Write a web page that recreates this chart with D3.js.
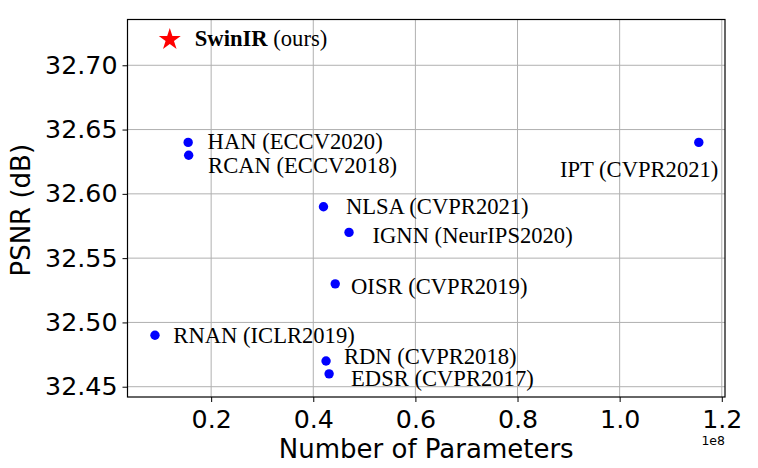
<!DOCTYPE html>
<html>
<head>
<meta charset="utf-8">
<script src="https://cdn.jsdelivr.net/npm/d3@7/dist/d3.min.js"></script>
<style>
  html, body { margin: 0; padding: 0; background: #fff; }
  svg { display: block; }
</style>
</head>
<body>
<svg id="chart" width="758" height="468"></svg>
<script>
// ---- data ----
const methods = ["HAN (ECCV2020)", "RCAN (ECCV2018)", "NLSA (CVPR2021)", "IGNN (NeurIPS2020)",
                 "OISR (CVPR2019)", "RNAN (ICLR2019)", "RDN (CVPR2018)", "EDSR (CVPR2017)", "IPT (CVPR2021)"];
const params = [15.5e6, 15.6e6, 42.0e6, 47.0e6, 44.3e6, 9.0e6, 42.5e6, 43.1e6, 115.5e6];
const psnr   = [32.64, 32.63, 32.59, 32.57, 32.53, 32.49, 32.47, 32.46, 32.64];
// annotation anchor points (data coordinates, like plt.text)
const labelX = [19.3e6, 19.4e6, 46.4e6, 51.6e6, 47.4e6, 12.6e6, 46.0e6, 47.4e6, 88.3e6];
const labelY = [32.635, 32.616, 32.584, 32.562, 32.522, 32.484, 32.468, 32.4506, 32.613];

const oursName = "SwinIR";
const oursSuffix = " (ours)";
const oursParams = 11.9e6;
const oursPsnr = 32.72;
const oursLabelX = 16.8e6;
const oursLabelY = 32.715;

const xTicks = [0.2e8, 0.4e8, 0.6e8, 0.8e8, 1.0e8, 1.2e8];
const yTicks = [32.45, 32.50, 32.55, 32.60, 32.65, 32.70];

// ---- layout ----
const svg = d3.select("#chart");
const L = 127.5, R = 725, T = 19.5, B = 397;
const x = d3.scaleLinear().domain([0.0362e8, 1.2063e8]).range([L, R]);
const y = d3.scaleLinear().domain([32.442, 32.7356]).range([B, T]);

const sans = "'DejaVu Sans', sans-serif";
const serif = "'Liberation Serif', 'Times New Roman', serif";

// grid
const grid = svg.append("g");
grid.selectAll("line.vx").data(xTicks).join("line")
  .attr("x1", d => x(d)).attr("x2", d => x(d)).attr("y1", T).attr("y2", B)
  .attr("stroke", "#b0b0b0").attr("stroke-width", 1);
grid.selectAll("line.hy").data(yTicks).join("line")
  .attr("y1", d => y(d)).attr("y2", d => y(d)).attr("x1", L).attr("x2", R)
  .attr("stroke", "#b0b0b0").attr("stroke-width", 1);

// axes
const xAxis = d3.axisBottom(x).tickValues(xTicks).tickSizeOuter(0).tickSize(5).tickPadding(8)
  .tickFormat(d => d3.format(".1f")(d / 1e8));
const yAxis = d3.axisLeft(y).tickValues(yTicks).tickSizeOuter(0).tickSize(5).tickPadding(5)
  .tickFormat(d3.format(".2f"));

const gx = svg.append("g").attr("transform", `translate(0,${B})`).call(xAxis);
const gy = svg.append("g").attr("transform", `translate(${L},0)`).call(yAxis);
[gx, gy].forEach(g => {
  g.select(".domain").remove();
  g.selectAll("line").attr("stroke", "#000").attr("stroke-width", 1);
  g.selectAll("text").attr("fill", "#000").style("font-family", sans).style("font-size", "25.3px");
});

// frame
svg.append("rect").attr("x", L).attr("y", T).attr("width", R - L).attr("height", B - T)
  .attr("fill", "none").attr("stroke", "#000").attr("stroke-width", 1.2);

// axis labels
svg.append("text").attr("x", (L + R) / 2).attr("y", 458).attr("text-anchor", "middle")
  .style("font-family", sans).style("font-size", "26px").text("Number of Parameters");
svg.append("text").attr("transform", `translate(29.5,${(T + B) / 2 + 2}) rotate(-90)`)
  .attr("text-anchor", "middle")
  .style("font-family", sans).style("font-size", "26px").text("PSNR (dB)");
svg.append("text").attr("x", R).attr("y", 445).attr("text-anchor", "end")
  .style("font-family", sans).style("font-size", "12.5px").text("1e8");

// points
svg.append("g").selectAll("circle").data(methods).join("circle")
  .attr("cx", (d, i) => x(params[i])).attr("cy", (d, i) => y(psnr[i]))
  .attr("r", 4.7).attr("fill", "#0000ff");

// labels
svg.append("g").selectAll("text").data(methods).join("text")
  .attr("x", (d, i) => x(labelX[i])).attr("y", (d, i) => y(labelY[i]))
  .style("font-family", serif).style("font-size", "22.6px").attr("fill", "#000")
  .text(d => d);

// ours
svg.append("path")
  .attr("d", d3.symbol().type(d3.symbolStar).size(150)())
  .attr("transform", `translate(${x(oursParams)},${y(oursPsnr)})`)
  .attr("fill", "#ff0000");
const ot = svg.append("text").attr("x", x(oursLabelX)).attr("y", y(oursLabelY))
  .style("font-family", serif).style("font-size", "22.6px").attr("fill", "#000");
ot.append("tspan").attr("font-weight", "bold").text(oursName);
ot.append("tspan").text(oursSuffix);
</script>
</body>
</html>
